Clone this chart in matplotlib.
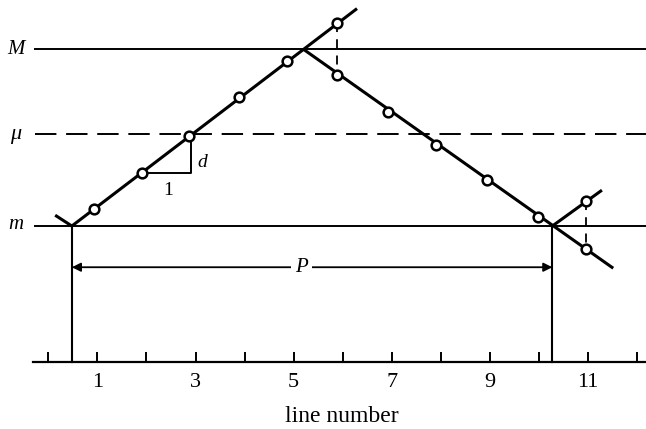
import numpy as np
import matplotlib
matplotlib.use('Agg')
import matplotlib.pyplot as plt
from matplotlib.ticker import FixedLocator

plt.rcParams['font.family'] = ['Liberation Serif', 'DejaVu Serif']

# levels (data units, m = 0)
level_M = 3.60
level_mu = 1.87
level_m = 0.0
baseline = -2.77

# circles (line number, value)
circ_x = [0.93, 1.91, 2.87, 3.89, 4.86, 5.88, 5.88, 6.92, 7.90, 8.94, 9.98, 10.96, 10.96]
circ_y = [0.34, 1.08, 1.83, 2.63, 3.36, 4.14, 3.08, 2.32, 1.65, 0.94, 0.19, 0.51, -0.47]

# the zig-zag lines
rise_x = [0.48, 6.29]
rise_y = [0.0, 4.43]
fall_x = [5.20, 11.51]
fall_y = [3.60, -0.86]
stub_left_x = [0.14, 0.48]
stub_left_y = [0.22, 0.0]
stub_right_x = [10.27, 11.28]
stub_right_y = [0.0, 0.73]

# period P between the two crossings of m
p_start = 0.48
p_end = 10.27
p_level = -0.84

major_ticks = [1, 3, 5, 7, 9, 11]
minor_ticks = [0, 2, 4, 6, 8, 10, 12]

fig = plt.figure(figsize=(6.46, 4.29), dpi=100)
ax = fig.add_axes([0, 0, 1, 1])
ax.set_xlim(-0.984, 12.178)
ax.set_ylim(-4.136, 4.605)

# horizontal reference levels
ax.plot([-0.27, 12.3], [level_M, level_M], color='black', lw=1.4)
ax.plot([-0.27, 12.3], [level_m, level_m], color='black', lw=1.4)
ax.plot([-0.27, 12.3], [level_mu, level_mu], color='black', lw=1.4, dashes=(11, 5))

ax.text(-0.66, level_M, 'M', fontsize=15, style='italic', ha='center', va='center')
ax.text(-0.67, level_mu, 'μ', fontsize=16, style='italic', ha='center', va='center')
ax.text(-0.67, level_m + 0.03, 'm', fontsize=15, style='italic', ha='center', va='center')

# verticals down to the axis
for xv in [p_start, p_end]:
    ax.plot([xv, xv], [level_m, baseline], color='black', lw=1.5)

# dashed reflections at 6 and 11
ax.plot([circ_x[5], circ_x[6]], [circ_y[5], circ_y[6]], color='black', lw=1.3, dashes=(5, 4))
ax.plot([circ_x[11], circ_x[12]], [circ_y[11], circ_y[12]], color='black', lw=1.3, dashes=(5, 4))

# zig-zag
for xs, ys in [(rise_x, rise_y), (fall_x, fall_y), (stub_left_x, stub_left_y), (stub_right_x, stub_right_y)]:
    ax.plot(xs, ys, color='black', lw=2.2, solid_capstyle='butt')

# slope triangle
ax.plot([circ_x[1], 2.90, 2.90], [circ_y[1], circ_y[1], circ_y[2]], color='black', lw=1.4)
ax.text(3.13, 1.30, 'd', fontsize=14, style='italic', ha='center', va='center')
ax.text(2.44, 0.73, '1', fontsize=14, ha='center', va='center')

ax.plot(circ_x, circ_y, 'o', ms=7, mfc='white', mec='black', mew=1.8, zorder=5)

# period arrow
ax.annotate('', xy=(p_start, p_level), xytext=(p_end, p_level),
            arrowprops=dict(arrowstyle='<|-|>', lw=1.3, color='black',
                            shrinkA=0, shrinkB=0, mutation_scale=13))
ax.text(5.16, p_level, 'P', fontsize=15, style='italic', ha='center', va='center',
        bbox=dict(facecolor='white', edgecolor='none', pad=3))

# axis along the bottom
for s in ['top', 'right', 'left']:
    ax.spines[s].set_visible(False)
ax.spines['bottom'].set_position(('data', baseline))
ax.spines['bottom'].set_bounds(-0.32, 12.4)
ax.spines['bottom'].set_linewidth(1.6)
ax.xaxis.set_major_locator(FixedLocator(major_ticks))
ax.xaxis.set_minor_locator(FixedLocator(minor_ticks))
ax.set_xticklabels([str(t) for t in major_ticks], fontsize=16)
ax.tick_params(axis='x', which='both', direction='in', length=7.5, width=1.4, pad=8)
ax.set_yticks([])
ax.set_xlabel('line number', fontsize=17)
ax.xaxis.set_label_coords(342 / 646, 1 - 406 / 429)

fig.savefig('out.png', dpi=100)
